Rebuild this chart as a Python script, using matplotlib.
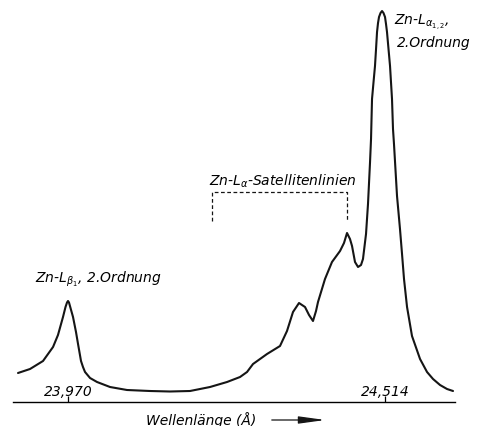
import matplotlib.pyplot as plt
from matplotlib.patches import FancyArrowPatch

# Zn-L emission spectrum, 2nd order (wavelength in Angstrom, intensity arb. units)
wavelength = [23.8842, 23.9048, 23.9271, 23.9443, 23.9528, 23.9614, 23.9657, 23.9683,
              23.9700, 23.9717, 23.9743, 23.9786, 23.9837, 23.9872, 23.9923, 23.9957,
              23.9992, 24.0078, 24.0198, 24.0421, 24.0712, 24.1107, 24.1450, 24.1794,
              24.2137, 24.2429, 24.2652, 24.2772, 24.2875, 24.2995, 24.3115, 24.3338,
              24.3458, 24.3561, 24.3664, 24.3767, 24.3836, 24.3904, 24.3956, 24.3990,
              24.4110, 24.4230, 24.4368, 24.4436, 24.4488, 24.4539, 24.4574, 24.4625,
              24.4677, 24.4728, 24.4762, 24.4814, 24.4848, 24.4883, 24.4900, 24.4917,
              24.4943, 24.4968, 24.4986, 24.5003, 24.5020, 24.5037, 24.5063, 24.5089,
              24.5114, 24.5140, 24.5157, 24.5174, 24.5200, 24.5226, 24.5260, 24.5277,
              24.5294, 24.5312, 24.5346, 24.5397, 24.5432, 24.5466, 24.5518, 24.5603,
              24.5741, 24.5861, 24.5964, 24.6084, 24.6204, 24.6307]
intensity = [29, 33, 41, 55, 67, 85, 95, 99.5,
             101, 99.5, 94, 85, 70, 58, 41, 35,
             30, 24, 20, 15, 12, 11, 10.5, 11,
             15, 20, 25, 30, 38, 43, 48, 56,
             71, 90, 99, 95, 87, 81, 91, 100,
             123, 140, 151, 159, 169, 163, 156, 140,
             135, 137, 143, 168, 198, 240, 263, 303,
             320, 336, 353, 370, 379, 385, 389, 391,
             389, 385, 378, 370, 353, 336, 303, 273,
             258, 240, 206, 173, 148, 123, 95, 66,
             43, 30, 23, 17, 13, 11]

tick_pos = [23.970, 24.514]
tick_labels = ['23,970', '24,514']

W, H = 479, 427
fig = plt.figure(figsize=(W / 100, H / 100), dpi=100)
ax = fig.add_axes([13 / W, (H - 403) / H, 442 / W, 403 / H])

ax.plot(wavelength, intensity, color='#151515', lw=1.5,
        solid_joinstyle='round', solid_capstyle='round')

ax.set_xlim(23.8756, 24.6341)
ax.set_ylim(0, 403)
for s in ['top', 'left', 'right']:
    ax.spines[s].set_visible(False)
ax.spines['bottom'].set_linewidth(1.0)
ax.set_yticks([])
ax.set_xticks(tick_pos)
ax.set_xticklabels(tick_labels, fontsize=10, fontstyle='italic')
ax.tick_params(axis='x', direction='in', length=4.5, width=0.9, pad=-13)

# peak labels
ax.text(23.9134, 120, r'Zn-$L_{\beta_1}$, 2.Ordnung', fontsize=10, fontstyle='italic')
ax.text(24.5286, 378, r'Zn-$L_{\alpha_{1,2}}$,', fontsize=10, fontstyle='italic')
ax.text(24.5337, 356, '2.Ordnung', fontsize=10, fontstyle='italic')
ax.text(24.2120, 217, r'Zn-$L_{\alpha}$-Satellitenlinien', fontsize=10, fontstyle='italic')

# dashed bracket over the satellite lines
bx0, bx1, by_top, by_bot = 24.2171, 24.4488, 210, 181
ax.plot([bx0, bx0, bx1, bx1], [by_bot, by_top, by_top, by_bot],
        color='#151515', lw=0.9, ls=(0, (3, 2)))

# axis label with arrow
fig.text(201 / W, 1 - 420 / H, 'Wellenlänge (Å)', fontsize=10, fontstyle='italic',
         ha='center', va='center')
fig.add_artist(FancyArrowPatch(
    (269 / W, 1 - 421 / H), (328 / W, 1 - 421 / H), transform=fig.transFigure,
    arrowstyle='-|>,head_length=1.6,head_width=0.22', mutation_scale=10,
    color='#151515', lw=0.9))

fig.savefig('out.png', dpi=100, facecolor='white')
